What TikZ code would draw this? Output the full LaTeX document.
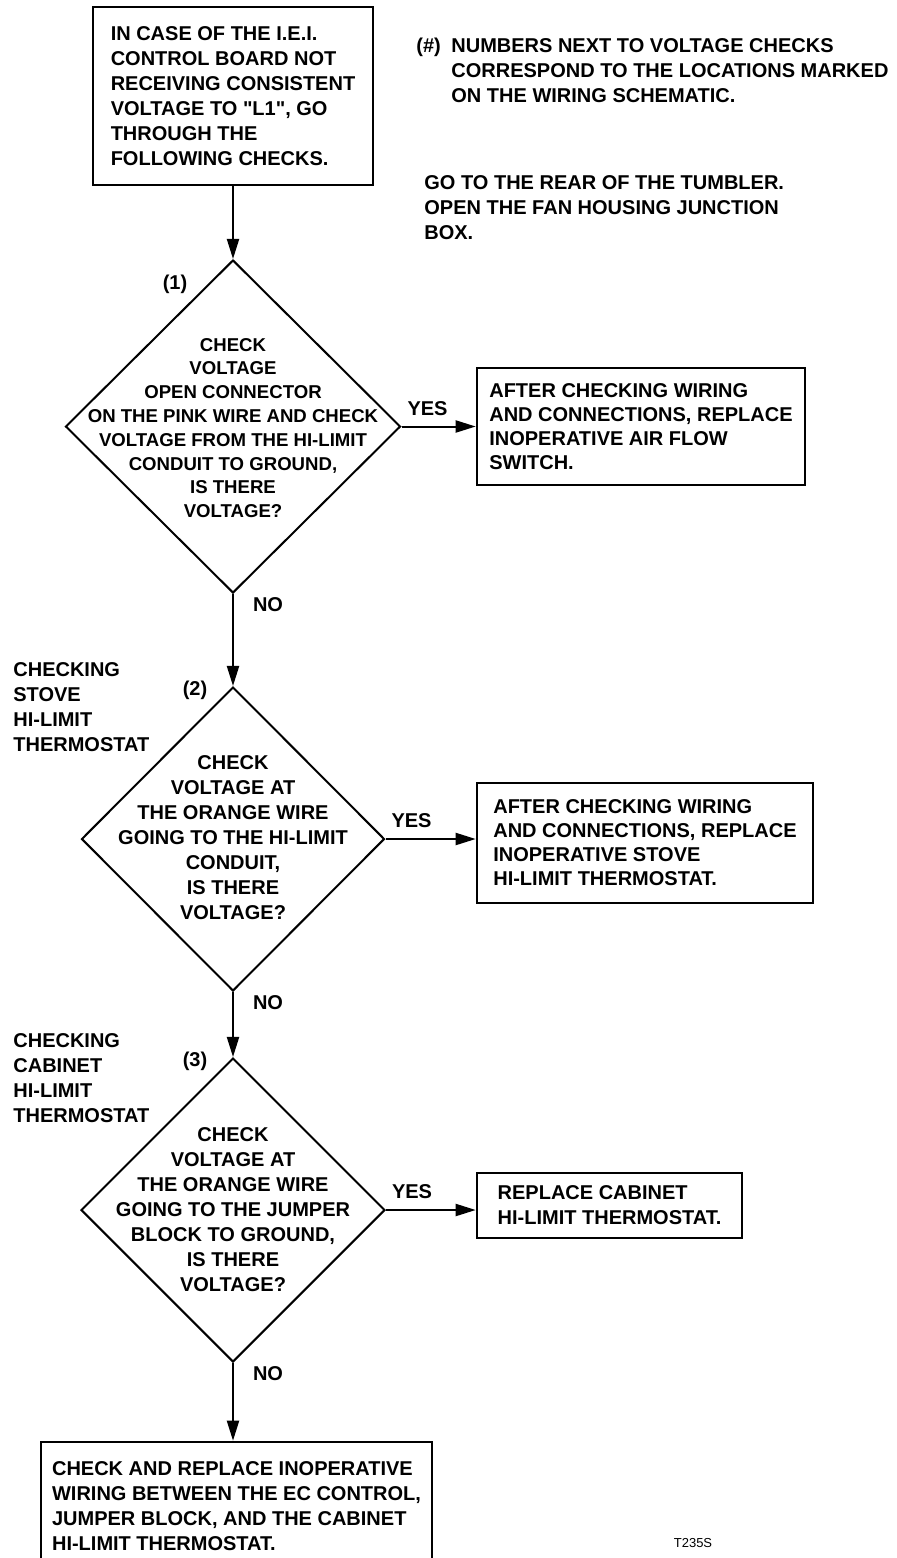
\documentclass[tikz,border=0pt]{standalone}
\usepackage{fontspec}
\setmainfont{Liberation Sans}
\usetikzlibrary{shapes.geometric,arrows.meta}

\begin{document}
\begin{tikzpicture}[x=0.5pt,y=-0.5pt,
	every node/.style={font=\bfseries\fontsize{10}{12.5}\selectfont},
	stepbox/.style={draw,line width=1.3pt,align=left,inner sep=0pt},
	decision/.style={draw,diamond,line width=1pt,inner sep=0pt},
	dtext/.style={align=center,inner sep=0pt},
	note/.style={align=left,anchor=north west,inner sep=0pt},
	flow/.style={line width=1pt,-{Triangle[length=10pt,width=6pt]}},
	yeslbl/.style={pos=0,anchor=south west,inner sep=0pt,xshift=2.5pt,yshift=5pt},
	nolbl/.style={pos=0,anchor=north west,inner sep=0pt,xshift=9.5pt,yshift=-1.5pt}]

	\useasboundingbox (0,0) rectangle (897,1558);

	% start box and notes
	\node[stepbox,minimum width=140pt,minimum height=89pt] (start) at (233,96)
		{IN CASE OF THE I.E.I.\\CONTROL BOARD NOT\\RECEIVING CONSISTENT\\VOLTAGE TO \textquotedbl L1\textquotedbl, GO\\THROUGH THE\\FOLLOWING CHECKS.};
	\node[note] (hash) at (416,38) {(\#)};
	\node[note] (numnote) at (451,38) {NUMBERS NEXT TO VOLTAGE CHECKS\\CORRESPOND TO THE LOCATIONS MARKED\\ON THE WIRING SCHEMATIC.};
	\node[note] (rear) at (424,175) {GO TO THE REAR OF THE TUMBLER.\\OPEN THE FAN HOUSING JUNCTION\\BOX.};

	% check (1)
	\node[decision,minimum width=167.5pt,minimum height=166.5pt] (d1) at (233,426.5) {};
	\node[dtext,font=\bfseries\fontsize{9.3}{11.9}\selectfont] (d1txt) at (233,428)
		{CHECK\\VOLTAGE\\OPEN CONNECTOR\\ON THE PINK WIRE AND CHECK\\VOLTAGE FROM THE HI-LIMIT\\CONDUIT TO GROUND,\\IS THERE\\VOLTAGE?};
	\node (n1) at (175,284) {(1)};
	\node[stepbox,minimum width=164pt,minimum height=58.5pt,font=\bfseries\fontsize{10}{12}\selectfont] (airflow) at (641,426.5)
		{AFTER CHECKING WIRING\\AND CONNECTIONS, REPLACE\\INOPERATIVE AIR FLOW\\SWITCH.};

	% check (2)
	\node[note] (stove) at (13,662) {CHECKING\\STOVE\\HI-LIMIT\\THERMOSTAT};
	\node[decision,minimum width=151.5pt,minimum height=152pt] (d2) at (233,839) {};
	\node[dtext] (d2txt) at (233,838)
		{CHECK\\VOLTAGE AT\\THE ORANGE WIRE\\GOING TO THE HI-LIMIT\\CONDUIT,\\IS THERE\\VOLTAGE?};
	\node (n2) at (195,690) {(2)};
	\node[stepbox,minimum width=168pt,minimum height=60pt,font=\bfseries\fontsize{10}{12}\selectfont] (stovesw) at (645,843)
		{AFTER CHECKING WIRING\\AND CONNECTIONS, REPLACE\\INOPERATIVE STOVE\\HI-LIMIT THERMOSTAT.};

	% check (3)
	\node[note] (cabinet) at (13,1033) {CHECKING\\CABINET\\HI-LIMIT\\THERMOSTAT};
	\node[decision,minimum width=152pt,minimum height=152pt] (d3) at (233,1210) {};
	\node[dtext] (d3txt) at (233,1210)
		{CHECK\\VOLTAGE AT\\THE ORANGE WIRE\\GOING TO THE JUMPER\\BLOCK TO GROUND,\\IS THERE\\VOLTAGE?};
	\node (n3) at (195,1061) {(3)};
	\node[stepbox,minimum width=132.5pt,minimum height=32.5pt] (cabsw) at (609.5,1205.5)
		{REPLACE CABINET\\HI-LIMIT THERMOSTAT.};

	% last box, cut by the page edge
	\node[stepbox,minimum width=195.5pt,minimum height=64.5pt] (wiring) at (236.5,1506.5)
		{CHECK AND REPLACE INOPERATIVE\\WIRING BETWEEN THE EC CONTROL,\\JUMPER BLOCK, AND THE CABINET\\HI-LIMIT THERMOSTAT.};
	\node[font=\fontsize{6.5}{8}\selectfont] (tag) at (693,1543) {T235S};

	% connectors
	\draw[flow] (start) -- (d1);
	\draw[flow] (d1.east) -- node[yeslbl]{YES} (d1.east -| airflow.west);
	\draw[flow] (d1) -- node[nolbl]{NO} (d2);
	\draw[flow] (d2.east) -- node[yeslbl]{YES} (d2.east -| stovesw.west);
	\draw[flow] (d2) -- node[nolbl]{NO} (d3);
	\draw[flow] (d3.east) -- node[yeslbl]{YES} (d3.east -| cabsw.west);
	\draw[flow] (d3.south) -- node[nolbl]{NO} (d3.south |- wiring.north);
\end{tikzpicture}
\end{document}
